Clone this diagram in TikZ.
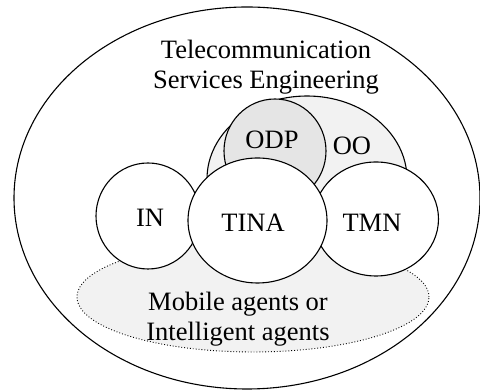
\documentclass[tikz,border=0pt]{standalone}
\usepackage{fontspec}
\setmainfont{Liberation Serif}
\usetikzlibrary{shapes.geometric}
\begin{document}
\begin{tikzpicture}[x=1pt,y=1pt,
  blob/.style={ellipse,draw,line width=1.1pt,inner sep=0pt},
  lbl/.style={font=\fontsize{26.5}{30}\selectfont,inner sep=0pt,align=center}]
\useasboundingbox (0,0) rectangle (480,390);
% outer domain
\node[blob,minimum width=466,minimum height=382] (tse) at (247,192) {};
% object orientation and ODP
\node[blob,fill=black!5,minimum width=200,minimum height=166] (oo) at (307,211) {};
\node[blob,fill=black!10,minimum width=102,minimum height=104] (odp) at (275,239) {};
% agents region
\node[ellipse,draw,dotted,line width=0.9pt,fill=black!5,inner sep=0pt,minimum width=352,minimum height=110] (ag) at (253,93) {};
% the three architectures
\node[blob,fill=white,minimum width=104,minimum height=106] (in) at (148,174) {};
\node[blob,fill=white,minimum width=125,minimum height=114] (tmn) at (376,171) {};
\node[blob,fill=white,minimum width=139,minimum height=125] (tina) at (257.5,169.5) {};
% labels
\node[lbl] (t1) at (266,323) {Telecommunication\\Services Engineering};
\node[lbl] (todp) at (272,250) {ODP};
\node[lbl] (too) at (352,244) {OO};
\node[lbl] (tin) at (150,172) {IN};
\node[lbl] (ttina) at (253,167) {TINA};
\node[lbl] (ttmn) at (372,167) {TMN};
\node[lbl] (tag) at (238,71) {Mobile agents or\\Intelligent agents};
\end{tikzpicture}
\end{document}
